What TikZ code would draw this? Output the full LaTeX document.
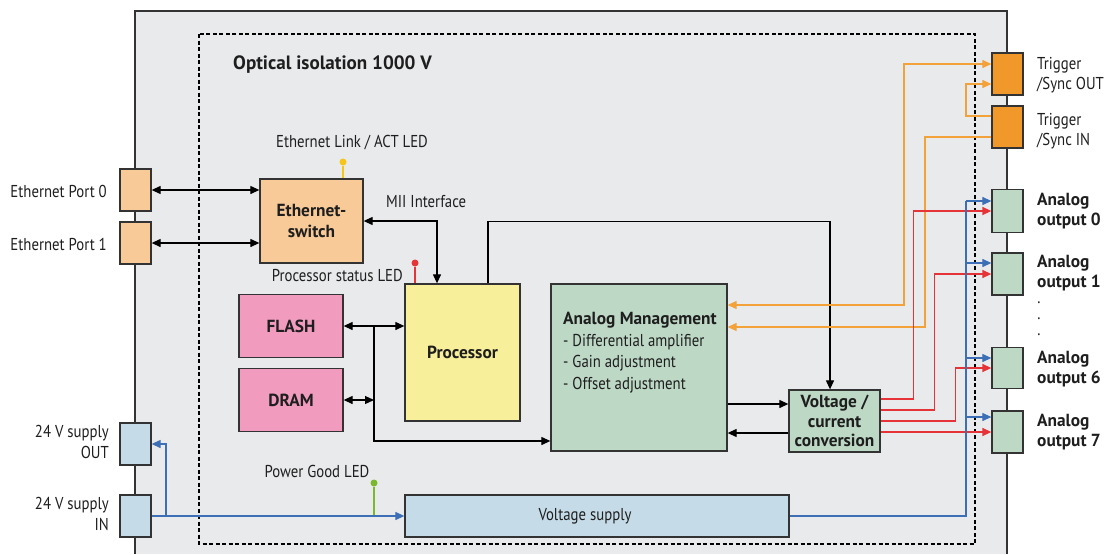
\documentclass[tikz,border=0pt]{standalone}
\usepackage{fontspec}
\setmainfont[FakeStretch=0.86, BoldFeatures={FakeStretch=0.99}]{PT Sans}
\usetikzlibrary{arrows.meta}
\definecolor{bgray}{HTML}{E9EAEC}
\definecolor{boxline}{HTML}{333333}
\definecolor{txt}{HTML}{1E1E1E}
\definecolor{peach}{HTML}{F8CA98}
\definecolor{pyellow}{HTML}{F7EF9A}
\definecolor{ppink}{HTML}{F19BBF}
\definecolor{pgreen}{HTML}{BDD9C6}
\definecolor{pblue}{HTML}{C5DCE8}
\definecolor{porange}{HTML}{F0992A}
\definecolor{lorange}{HTML}{F3A23A}
\definecolor{lred}{HTML}{E53338}
\definecolor{lblue}{HTML}{3C6FB6}
\definecolor{ledyel}{HTML}{F5C518}
\definecolor{ledgrn}{HTML}{7AB82C}
\newcommand{\lblfont}{\fontsize{17.2}{20.5}\selectfont}
\newcommand{\bfont}{\fontsize{17.5}{20.5}\selectfont\bfseries}
\begin{document}
\begin{tikzpicture}[x=1pt,y=-1pt,
  box/.style={draw=boxline, line width=1.3pt, inner sep=0pt, text=txt, font=\bfont, align=center},
  lbl/.style={font=\lblfont, text=txt, inner sep=0pt},
  blbl/.style={font=\bfont, text=txt, inner sep=0pt},
  tip/.style={-{Triangle[length=9pt,width=8pt]}},
  btip/.style={{Triangle[length=9pt,width=8pt]}-{Triangle[length=9pt,width=8pt]}},
  kline/.style={line width=1.2pt, draw=black},
  oline/.style={line width=1.2pt, draw=lorange},
  rline/.style={line width=1.4pt, draw=lred},
  bline/.style={line width=1.2pt, draw=lblue},
  oarr/.style={oline, -{Triangle[length=9pt,width=8pt]}},
  rarr/.style={rline, -{Triangle[length=9pt,width=8pt]}},
  barr/.style={bline, -{Triangle[length=9pt,width=8pt]}},
  led/.style={circle, inner sep=0pt, minimum size=7pt}
]
\useasboundingbox (0,0) rectangle (1107,554);
% outer housing
\fill[bgray] (135,11) rectangle (1007,554);
\draw[boxline, line width=1.3pt] (135,554) -- (135,11) -- (1007,11) -- (1007,554);
% isolation
\draw[black, line width=1.6pt, dash pattern=on 4pt off 2.5pt] (199,34) rectangle (975,544);
\node[font=\fontsize{19.3}{22}\selectfont\bfseries, text=txt, anchor=west, inner sep=0pt] (title) at (233,65) {Optical isolation 1000 V};

% ports left
\node[box, fill=peach, minimum width=31pt, minimum height=42pt] (ep0) at (135.5,190) {};
\node[box, fill=peach, minimum width=31pt, minimum height=42pt] (ep1) at (135.5,243) {};
\node[lbl, anchor=east] (ep0l) at (107,191) {Ethernet Port 0};
\node[lbl, anchor=east] (ep1l) at (107,244) {Ethernet Port 1};
\node[box, fill=pblue, minimum width=31pt, minimum height=42pt] (psout) at (135.5,444) {};
\node[box, fill=pblue, minimum width=31pt, minimum height=42pt] (psin) at (135.5,516) {};
\node[lbl, anchor=east, align=right] (psoutl) at (109,442) {24 V supply\\OUT};
\node[lbl, anchor=east, align=right] (psinl) at (109,514) {24 V supply\\IN};

% ports right
\node[box, fill=porange, minimum width=31pt, minimum height=42pt] (trout) at (1007.5,74) {};
\node[box, fill=porange, minimum width=31pt, minimum height=42pt] (trin) at (1007.5,127) {};
\node[lbl, anchor=west, align=left] (troutl) at (1037,75) {Trigger\\/Sync OUT};
\node[lbl, anchor=west, align=left] (trinl) at (1037,131) {Trigger\\/Sync IN};
\node[box, fill=pgreen, minimum width=31pt, minimum height=43pt] (ao0) at (1007.5,211) {};
\node[box, fill=pgreen, minimum width=31pt, minimum height=42pt] (ao1) at (1007.5,274) {};
\node[box, fill=pgreen, minimum width=31pt, minimum height=41pt] (ao6) at (1007.5,368) {};
\node[box, fill=pgreen, minimum width=31pt, minimum height=42pt] (ao7) at (1007.5,432) {};
\node[blbl, anchor=west, align=left] (ao0l) at (1037,211) {Analog\\output 0};
\node[blbl, anchor=west, align=left] (ao1l) at (1037,273) {Analog\\output 1};
\node[blbl, anchor=west, align=left] (ao6l) at (1037,369) {Analog\\output 6};
\node[blbl, anchor=west, align=left] (ao7l) at (1037,432) {Analog\\output 7};
\node[lbl] (d1) at (1039,303) {.};
\node[lbl] (d2) at (1039,319) {.};
\node[lbl] (d3) at (1039,335) {.};

% internal blocks
\node[box, fill=peach, minimum width=103pt, minimum height=84pt] (sw) at (311.5,221) {Ethernet-\\switch};
\node[box, fill=pyellow, minimum width=115pt, minimum height=137pt] (proc) at (462.5,352.5) {Processor};
\node[box, fill=ppink, minimum width=104pt, minimum height=63pt] (flash) at (291,326) {FLASH};
\node[box, fill=ppink, minimum width=104pt, minimum height=63pt] (dram) at (291,400) {DRAM};
\node[box, fill=pgreen, minimum width=176pt, minimum height=167pt] (am) at (639,367.5) {};
\node[lbl, anchor=north west, align=left, font=\fontsize{17.2}{21.5}\selectfont] (amt) at (563,312) {\textbf{\fontsize{17.5}{21.5}\selectfont Analog Management}\\- Differential amplifier\\- Gain adjustment\\- Offset adjustment};
\node[box, fill=pgreen, minimum width=91pt, minimum height=62pt, font=\fontsize{17.5}{19.5}\selectfont\bfseries] (vc) at (834.5,421) {Voltage /\\current\\conversion};
\node[box, fill=pblue, minimum width=384pt, minimum height=42pt, font=\lblfont] (vs) at (597,516) {\hspace*{-24pt}Voltage supply};

% labels
\node[lbl] (ledl1) at (352,143) {Ethernet Link / ACT LED};
\node[lbl, anchor=west] (miil) at (386,202) {MII Interface};
\node[lbl, anchor=east] (ledl2) at (403,276) {Processor status LED};
\node[lbl] (ledl3) at (317,471) {Power Good LED};

% LEDs
\node[led, fill=ledyel] (led1) at (343,162) {};
\draw[ledyel, line width=1.2pt] (led1) -- (sw.north -| led1);
\node[led, fill=lred] (led2) at (415,263) {};
\draw[lred, line width=1.2pt] (led2) -- (proc.north -| led2);
\node[led, fill=ledgrn] (led3) at (374,483) {};
\coordinate (pg) at (374,516);
\draw[ledgrn, line width=1.2pt] (led3) -- (pg);

% black connections
\draw[kline, btip] (ep0.east) -- (sw.west |- ep0.east);
\draw[kline, btip] (ep1.east) -- (sw.west |- ep1.east);
\draw[kline, btip] (sw.east) -| ([xshift=-25.5pt]proc.north);
\draw[kline, tip] ([xshift=25.5pt]proc.north) -- ++(0,-62) -| ([xshift=-4.5pt]vc.north);
\draw[kline, btip] (flash.east) -- (proc.west |- flash.east);
\coordinate (bus) at (374,326);
\draw[kline, tip] (bus) |- (am.west |- 0,441);
\draw[kline, btip] (dram.east) -- (bus |- dram.east);
\draw[kline, tip] (am.east |- 0,404) -- (vc.west |- 0,404);
\draw[kline, tip] (vc.west |- 0,433) -- (am.east |- 0,433);

% orange trigger lines
\draw[oline, {Triangle[length=9pt,width=8pt]}-{Triangle[length=9pt,width=8pt]}] (am.east |- 0,305) -| (904,64) -- (trout.west |- 0,64);
\draw[oarr] (trin.west |- 0,137) -| (925,327) -- (am.east |- 0,327);
\draw[oarr] (trin.west |- 0,116) -| (966,84) -- (trout.west |- 0,84);

% red outputs
\draw[rarr] ([yshift=22pt]vc.east) -| ([xshift=-78pt]ao0.west) -- (ao0.west);
\draw[rarr] ([yshift=11pt]vc.east) -| ([xshift=-57pt]ao1.west) -- (ao1.west);
\draw[rarr] (vc.east) -| ([xshift=-36pt]ao6.west) -- (ao6.west);
\draw[rarr] ([yshift=-11pt]vc.east) -- (ao7.west);

% blue supply lines
\coordinate (btop) at (966,201);
\draw[bline] (vs.east |- pg) -| (btop);
\draw[barr] (btop) -- (ao0.west |- btop);
\draw[barr] (966,263) -- (ao1.west |- 0,263);
\draw[barr] (966,358) -- (ao6.west |- 0,358);
\draw[barr] (966,417) -- (ao7.west |- 0,417);
\draw[barr] (psin.east) -- (vs.west |- psin.east);
\draw[barr] (166,516) |- (psout.east);
\end{tikzpicture}
\end{document}
